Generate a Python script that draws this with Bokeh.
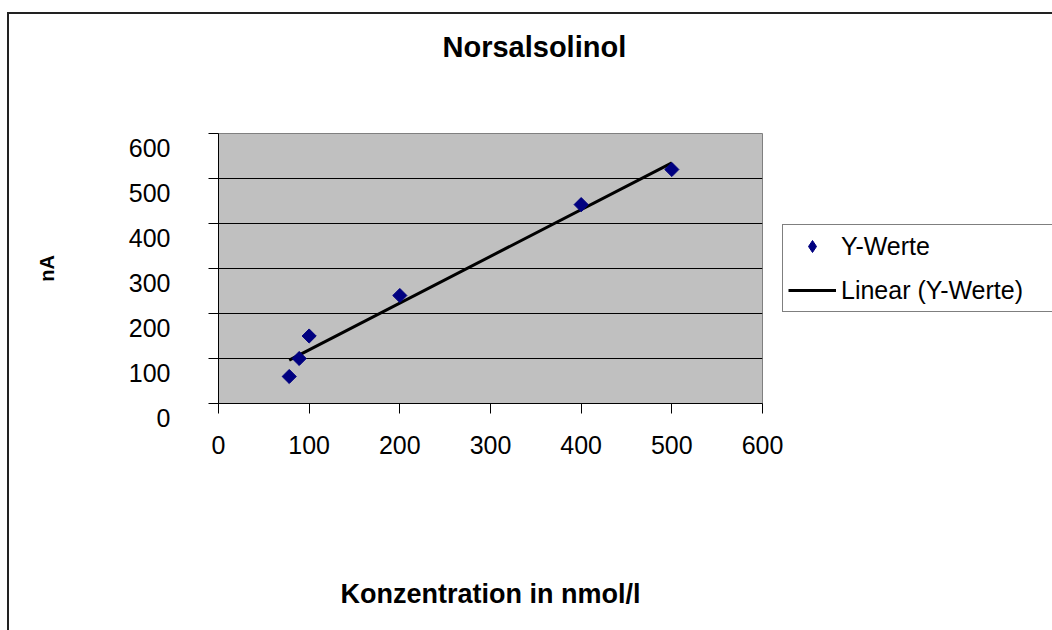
import numpy as np
from bokeh.plotting import figure
from bokeh.models import Range1d, FixedTicker, Legend, LegendItem, Title
from bokeh.embed import file_html
from bokeh.resources import INLINE

# ---- data ----
chart_title = "Norsalsolinol"
x_label = "Konzentration in nmol/l"
y_label = "nA"
series_name = "Y-Werte"
trend_name = "Linear (Y-Werte)"
conc = [78, 89, 100, 200, 400, 500]
current = [60, 100, 150, 240, 442, 520]
x_ticks = [0, 100, 200, 300, 400, 500, 600]
y_ticks = [0, 100, 200, 300, 400, 500, 600]
grid_ticks = [100, 200, 300, 400, 500]

# linear trend line (least squares) over the data range
slope, intercept = np.polyfit(conc, current, 1)
trend_x = [min(conc), max(conc)]
trend_y = [slope * v + intercept for v in trend_x]

FONT = "Liberation Sans"
NAVY = "#000080"

p = figure(frame_width=544, frame_height=270, output_backend="svg",
           toolbar_location=None,
           x_range=Range1d(0, 600), y_range=Range1d(0, 600),
           min_border_left=209, min_border_right=290,
           min_border_top=119, min_border_bottom=227)
p.margin = (12, 0, 0, 7)
p.styles = {"border-top": "2px solid #222222", "border-left": "2px solid #222222"}
p.background_fill_color = "#C0C0C0"
p.border_fill_color = "white"
p.outline_line_color = "#808080"
p.outline_line_width = 1
p.title.text = ""

# blank spacer between the frame and the title
p.add_layout(Title(text=" ", text_font_size="10px", text_color="white",
                   standoff=58), "above")
p.add_layout(Title(text=chart_title, align="left", vertical_align="bottom",
                   offset=224, standoff=0, text_font=FONT,
                   text_font_style="bold", text_font_size="29px",
                   text_color="black"), "above")

p.xgrid.visible = False
p.ygrid.ticker = FixedTicker(ticks=grid_ticks)
p.ygrid.grid_line_color = "black"
p.ygrid.grid_line_width = 1

xax = p.below[0]
yax = p.left[0]
for ax in (xax, yax):
    ax.axis_line_color = "black"
    ax.axis_line_width = 1
    ax.major_tick_line_color = "black"
    ax.major_tick_out = 10
    ax.major_tick_in = 0
    ax.minor_tick_out = 0
    ax.minor_tick_in = 0
    ax.major_label_text_font = FONT
    ax.major_label_text_font_size = "25px"
    ax.major_label_text_color = "black"
    ax.axis_label_text_font = FONT
    ax.axis_label_text_font_style = "bold"
    ax.axis_label_text_color = "black"

xax.ticker = FixedTicker(ticks=x_ticks)
xax.major_label_text_align = "left"
xax.major_label_standoff = 22
xax.axis_label = x_label
xax.axis_label_text_font_size = "27px"
xax.axis_label_standoff = 122

yax.ticker = FixedTicker(ticks=y_ticks)
yax.major_label_overrides = {v: "\n" + str(v) for v in y_ticks}
yax.major_label_text_line_height = 1.05
yax.major_label_standoff = 38
yax.axis_label = y_label
yax.axis_label_text_font_size = "20px"
yax.axis_label_standoff = 68

ln = p.line(trend_x, trend_y, line_color="black", line_width=3)
# diamond key glyph (hidden under the points, used for the legend key)
sc_key = p.scatter(conc, current, marker="diamond", size=12,
                   fill_color=NAVY, line_color=NAVY)
sc = p.scatter(conc, current, marker="square", angle=np.pi / 4, size=10,
               fill_color=NAVY, line_color=NAVY)

legend = Legend(items=[LegendItem(label=series_name, renderers=[sc_key]),
                       LegendItem(label=trend_name, renderers=[ln])],
                location="left", margin=20,
                glyph_width=48, glyph_height=30,
                label_height=32, label_width=240, label_standoff=5,
                padding=5, spacing=12,
                label_text_font=FONT, label_text_font_size="25px",
                label_text_color="black",
                border_line_color="black", border_line_width=1.5,
                background_fill_color="white", background_fill_alpha=1.0)
p.add_layout(legend, "right")

html = file_html(p, INLINE)
html = html.replace("<head>", "<head><style>html, body { overflow: hidden; }</style>", 1)
open("out.html", "w").write(html)
